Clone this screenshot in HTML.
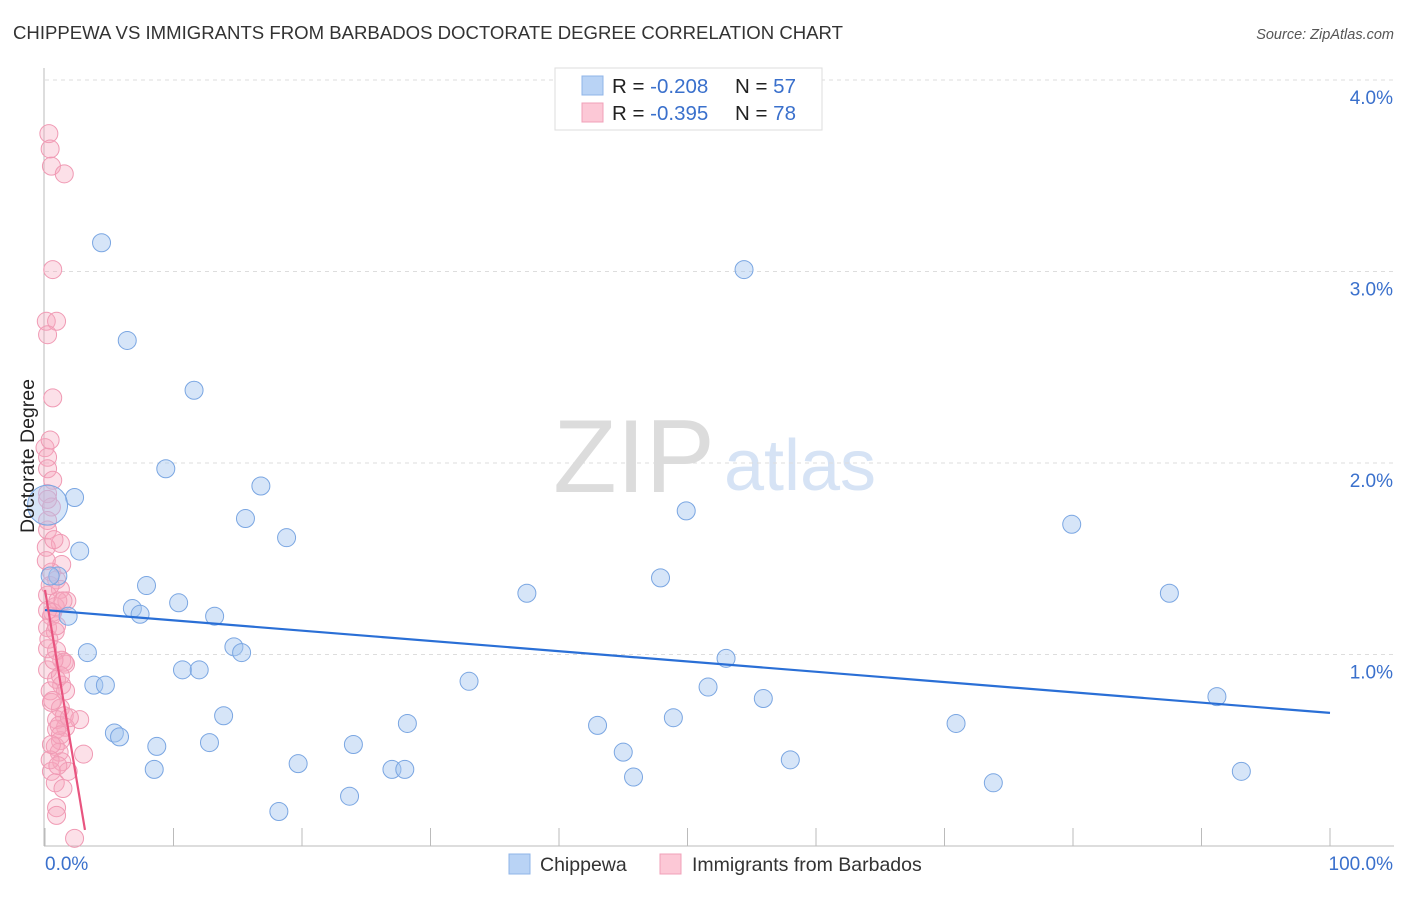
<!DOCTYPE html>
<html><head><meta charset="utf-8"><style>
body{margin:0;background:#fff;font-family:"Liberation Sans",sans-serif;}
svg text{font-family:"Liberation Sans",sans-serif;}
</style></head><body>
<svg id="c" width="1406" height="892" xmlns="http://www.w3.org/2000/svg">
<text x="13" y="39" font-size="18.5" fill="#333" textLength="830" lengthAdjust="spacingAndGlyphs">CHIPPEWA VS IMMIGRANTS FROM BARBADOS DOCTORATE DEGREE CORRELATION CHART</text>
<text x="1394" y="39" font-size="14.5" fill="#555" font-style="italic" text-anchor="end">Source: ZipAtlas.com</text>
<text x="634" y="492" font-size="104" fill="#dcdcdc" font-family="Liberation Serif" text-anchor="middle">ZIP</text>
<text x="800" y="490" font-size="72" fill="#d6e3f5" text-anchor="middle">atlas</text>
<g id="grid"></g><g id="marks"></g>
<text transform="translate(34,456) rotate(-90)" font-size="19.5" fill="#222" text-anchor="middle">Doctorate Degree</text>
<g>
<rect x="555" y="68" width="267" height="62" fill="#fff" stroke="#ddd"/>
<rect x="582" y="76" width="21" height="19" fill="#b9d3f5" stroke="#8fb4e8"/>
<rect x="582" y="103" width="21" height="19" fill="#fcc8d6" stroke="#f0a0b8"/>
<text x="612" y="93" font-size="20.5" fill="#222">R = <tspan fill="#3a70cc">-0.208</tspan><tspan x="735">N = </tspan><tspan fill="#3a70cc">57</tspan></text>
<text x="612" y="120" font-size="20.5" fill="#222">R = <tspan fill="#3a70cc">-0.395</tspan><tspan x="735">N = </tspan><tspan fill="#3a70cc">78</tspan></text>
</g>
<g>
<rect x="509" y="854" width="21" height="20" fill="#b9d3f5" stroke="#8fb4e8"/>
<text x="540" y="871" font-size="19.5" fill="#333">Chippewa</text>
<rect x="660" y="854" width="21" height="20" fill="#fcc8d6" stroke="#f0a0b8"/>
<text x="692" y="871" font-size="19.5" fill="#333">Immigrants from Barbados</text>
</g>
</svg>
<script>
const yTicks=[1,2,3,4];
const yTickLabels=["1.0%","2.0%","3.0%","4.0%"];
const blueX=[4.4,6.4,11.6,9.4,16.8,2.3,15.6,18.8,2.7,1.0,7.9,10.4,6.8,7.4,1.8,13.2,14.7,15.3,3.3,10.7,12.0,3.8,4.7,13.9,5.4,5.8,8.7,12.8,8.5,19.7,18.2,23.7,24.0,27.0,28.0,28.2,33.0,37.5,43.0,45.0,45.8,47.9,48.9,49.9,51.6,53.0,54.4,55.9,58.0,70.9,73.8,79.9,87.5,91.2,93.1,0.4,0.2];
const blueY=[3.15,2.64,2.38,1.97,1.88,1.82,1.71,1.61,1.54,1.41,1.36,1.27,1.24,1.21,1.20,1.20,1.04,1.01,1.01,0.92,0.92,0.84,0.84,0.68,0.59,0.57,0.52,0.54,0.40,0.43,0.18,0.26,0.53,0.40,0.40,0.64,0.86,1.32,0.63,0.49,0.36,1.40,0.67,1.75,0.83,0.98,3.01,0.77,0.45,0.64,0.33,1.68,1.32,0.78,0.39,1.41,1.78];
const pinkX=[.3,.4,.5,1.5,.6,.1,.9,.2,.6,0,.2,.2,.6,.2,.5,.2,.2,1.2,.1,1.3,.5,.9,1.2,.2,1.7,.8,.5,.2,.8,.2,.9,1.3,1.6,.2,.9,1.3,.4,.5,1.2,1.5,2.7,.9,1.6,.9,1.2,.8,1.1,3.0,1.3,1.8,.5,.8,1.4,.9,.9,2.3,.4,.1,1.0,.6,.3,1.5,1.6,.6,1.1,1.2,.4,1.9,1.0,.7,.2,.4,.7,.2,.9,1.2,.5,1.4];
const pinkY=[3.72,3.64,3.55,3.51,3.01,2.74,2.74,2.67,2.34,2.08,2.03,1.97,1.91,1.84,1.77,1.70,1.65,1.58,1.56,1.47,1.43,1.39,1.34,1.31,1.28,1.25,1.20,1.14,1.12,1.03,1.02,0.97,0.95,0.92,0.87,0.84,0.81,0.75,0.72,0.68,0.66,0.66,0.62,0.61,0.55,0.52,0.49,0.48,0.44,0.39,0.39,0.33,0.30,0.20,0.16,0.04,2.12,1.49,1.28,1.22,1.08,0.96,0.81,0.76,0.63,0.58,0.45,0.67,0.42,0.97,1.23,1.36,1.60,1.81,1.15,0.89,0.53,1.28];
const blueTrend=[1.232,0.695];
const pinkTrend=[1.337,0.084,3.11];
const NS='http://www.w3.org/2000/svg';
const sx=v=>45+v*12.85, sy=v=>846-v*191.5;
function mk(t,a,p){const e=document.createElementNS(NS,t);for(const k in a)e.setAttribute(k,a[k]);p.appendChild(e);return e;}
const g=document.getElementById('grid'), m=document.getElementById('marks');
yTicks.forEach((t,i)=>{
 const l=mk('line',{x1:45,x2:1394,y1:sy(t),y2:sy(t),stroke:'#ddd','stroke-dasharray':'4,4'},g);
 
 
 const tx=mk('text',{x:1393,y:sy(t)+24,'font-size':19,fill:'#3a70cc','text-anchor':'end'},g);
 tx.textContent=yTickLabels[i];
 
 
});
const ax=mk('line',{x1:44,x2:44,y1:68,y2:846,stroke:'#bbb'},g);


const bx=mk('line',{x1:44,x2:1394,y1:846,y2:846,stroke:'#bbb'},g);


for(let i=0;i<=10;i++){const t=mk('line',{x1:sx(i*10),x2:sx(i*10),y1:828,y2:846,stroke:'#bbb'},g);
 
 }
const x0=mk('text',{x:45,y:870,'font-size':19,fill:'#3a70cc'},g);x0.textContent='0.0%';


const x1=mk('text',{x:1393,y:870,'font-size':19,fill:'#3a70cc','text-anchor':'end'},g);x1.textContent='100.0%';


pinkX.forEach((x,i)=>{const c=mk('circle',{cx:sx(x),cy:sy(pinkY[i]),r:9,fill:'rgba(246,165,190,0.35)',stroke:'#f09ab4','stroke-width':1},m);
 
 });
blueX.forEach((x,i)=>{const c=mk('circle',{cx:sx(x),cy:sy(blueY[i]),r:i==blueX.length-1?20:9,fill:'rgba(165,198,240,0.45)',stroke:'#7aa6e2','stroke-width':1},m);
 
 });
const bl=mk('line',{x1:sx(0),y1:sy(blueTrend[0]),x2:sx(100),y2:sy(blueTrend[1]),stroke:'#2a6fd6','stroke-width':2.2},m);


const pl=mk('line',{x1:sx(0),y1:sy(pinkTrend[0]),x2:sx(pinkTrend[2]),y2:sy(pinkTrend[1]),stroke:'#e8547f','stroke-width':2.2},m);


</script>
</body></html>
